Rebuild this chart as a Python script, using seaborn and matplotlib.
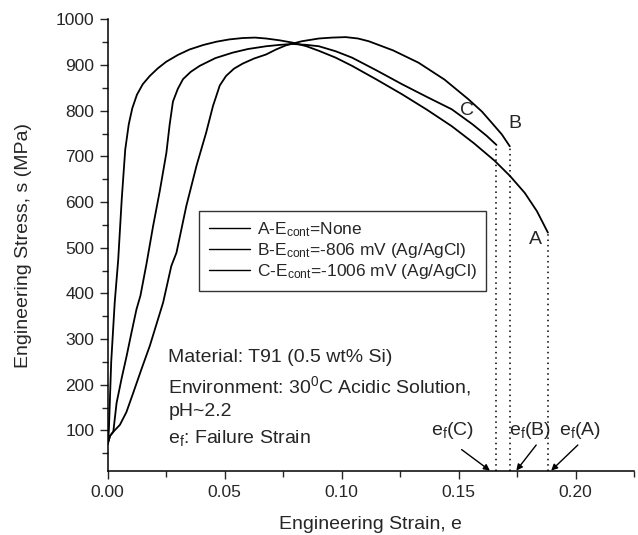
import numpy as np
import pandas as pd
import seaborn as sns
import matplotlib
matplotlib.use("Agg")
import matplotlib.pyplot as plt
from matplotlib.ticker import MultipleLocator

# curve A (no potential control)
strain_a = [0.0, 0.0005, 0.0015, 0.0030, 0.0045, 0.0060, 0.0075, 0.0090, 0.0105, 0.0125,
            0.0150, 0.0180, 0.0215, 0.0250, 0.0300, 0.0350, 0.0410, 0.0465, 0.0520, 0.0577,
            0.0630, 0.0677, 0.0735, 0.0790, 0.0850, 0.0903, 0.0975, 0.1045, 0.1150, 0.1258,
            0.1365, 0.1471, 0.1565, 0.1655, 0.1720, 0.1783, 0.1835, 0.1882]
stress_a = [70, 100, 250, 380, 474, 606, 715, 770, 805, 835,
            858, 876, 893, 907, 922, 934, 944, 951, 956, 959,
            960, 958, 954, 949, 941, 931, 916, 898, 868, 836,
            802, 766, 729, 690, 657, 620, 580, 533]

# curve B (-806 mV)
strain_b = [0.0, 0.0010, 0.0024, 0.0052, 0.0080, 0.0109, 0.0145, 0.0180, 0.0210, 0.0237,
            0.0272, 0.0294, 0.0336, 0.0380, 0.0421, 0.0450, 0.0479, 0.0506, 0.0540, 0.0577,
            0.0625, 0.0677, 0.0720, 0.0762, 0.0830, 0.0903, 0.0960, 0.1018, 0.1070, 0.1116,
            0.1220, 0.1329, 0.1440, 0.1542, 0.1600, 0.1641, 0.1685, 0.1719]
stress_b = [70, 88, 97, 112, 140, 182, 235, 285, 335, 380,
            460, 489, 591, 680, 752, 810, 855, 876, 892, 903,
            914, 923, 934, 943, 952, 958, 960, 961, 958, 952,
            932, 905, 868, 825, 798, 774, 748, 722]

# curve C (-1006 mV)
strain_c = [0.0, 0.0010, 0.0024, 0.0038, 0.0060, 0.0081, 0.0100, 0.0123, 0.0140, 0.0166,
            0.0194, 0.0223, 0.0251, 0.0265, 0.0279, 0.0300, 0.0322, 0.0355, 0.0393, 0.0460,
            0.0534, 0.0600, 0.0677, 0.0735, 0.0790, 0.0850, 0.0903, 0.0975, 0.1045, 0.1150,
            0.1258, 0.1365, 0.1471, 0.1560, 0.1620, 0.1662]
stress_c = [70, 88, 97, 160, 215, 263, 310, 365, 395, 465,
            547, 625, 708, 770, 820, 848, 869, 885, 898, 915,
            927, 935, 941, 944, 946, 944, 941, 930, 916, 888,
            858, 830, 803, 770, 745, 725]

legend_labels = [r"A-E$_\mathregular{cont}$=None",
                 r"B-E$_\mathregular{cont}$=-806 mV (Ag/AgCl)",
                 r"C-E$_\mathregular{cont}$=-1006 mV (Ag/AgCl)"]
curve_letters = ["A", "B", "C"]
failure_strain = [0.1882, 0.1719, 0.1662]
failure_stress = [533, 722, 725]

info = ["Material: T91 (0.5 wt% Si)",
        r"Environment: 30$^\mathregular{0}$C Acidic Solution,",
        "pH~2.2",
        r"e$_\mathregular{f}$: Failure Strain"]
info_y = [259, 197, 142, 84]

sns.set_style("ticks")
plt.rcParams["font.family"] = ["Liberation Sans", "DejaVu Sans"]
plt.rcParams["mathtext.fontset"] = "custom"
plt.rcParams["mathtext.rm"] = "Liberation Sans"
plt.rcParams["mathtext.it"] = "Liberation Sans:italic"

df = pd.concat([
    pd.DataFrame({"strain": strain_a, "stress": stress_a, "curve": legend_labels[0]}),
    pd.DataFrame({"strain": strain_b, "stress": stress_b, "curve": legend_labels[1]}),
    pd.DataFrame({"strain": strain_c, "stress": stress_c, "curve": legend_labels[2]}),
])

fig = plt.figure(figsize=(6.38, 5.35), dpi=100)
ax = fig.add_axes([0.1688, 0.1187, 0.8249, 0.8452])

sns.lineplot(data=df, x="strain", y="stress", hue="curve", palette=["k", "k", "k"],
             sort=False, estimator=None, lw=1.3, ax=ax, legend=False)

# dotted drop lines at failure
ax.vlines(failure_strain, 10, failure_stress, colors="k", linestyles=(0, (1, 2.5)), lw=1.1)

ax.set_xlim(0, 0.225)
ax.set_ylim(10, 1000)
ax.xaxis.set_major_locator(MultipleLocator(0.05))
ax.xaxis.set_minor_locator(MultipleLocator(0.025))
ax.yaxis.set_minor_locator(MultipleLocator(50))
ax.set_yticks(np.arange(100, 1001, 100))
ax.xaxis.set_major_formatter(plt.FuncFormatter(lambda v, p: f"{v:.2f}"))
ax.tick_params(which="major", length=6, width=1, labelsize=12.5, direction="out")
ax.tick_params(which="minor", length=4, width=1, direction="out")
sns.despine(ax=ax)
for s in ["left", "bottom"]:
    ax.spines[s].set_linewidth(1.1)
    ax.spines[s].set_color("k")

ax.set_xlabel("Engineering Strain, e", fontsize=14)
ax.set_ylabel("Engineering Stress, s (MPa)", fontsize=14)
ax.xaxis.set_label_coords(0.5, -0.098)
ax.yaxis.set_label_coords(-0.143, 0.5)

# legend
handles = [plt.Line2D([], [], color="k", lw=1) for _ in legend_labels]
leg = ax.legend(handles, legend_labels, loc="upper left", bbox_to_anchor=(0.174, 0.577),
                fontsize=12.5, frameon=True, fancybox=False, handlelength=2.4,
                handletextpad=0.35, labelspacing=0.12, borderpad=0.55, borderaxespad=0)
leg.get_frame().set_edgecolor("k")
leg.get_frame().set_linewidth(1.0)

# curve letters
ax.text(0.1535, 800, "C", fontsize=14, ha="center", va="center")
ax.text(0.1740, 772, "B", fontsize=14, ha="center", va="center")
ax.text(0.1828, 518, "A", fontsize=14, ha="center", va="center")

# info block
for line, y in zip(info, info_y):
    ax.text(0.0259, y, line, fontsize=14, ha="left", va="center")

# failure strain arrows
ef_text_x = [0.2020, 0.1804, 0.1474]
arrow_tail = [(0.2010, 68), (0.1832, 68), (0.1513, 58)]
arrow_tip = [(0.1896, 12), (0.1747, 12), (0.1634, 12)]
for letter, tx, tail, tip in zip(curve_letters, ef_text_x, arrow_tail, arrow_tip):
    ax.text(tx, 100, r"e$_\mathregular{f}$(" + letter + ")", fontsize=14, ha="center", va="center")
    ax.annotate("", xy=tip, xytext=tail,
                arrowprops=dict(arrowstyle="-|>", color="k", lw=1, mutation_scale=9,
                                shrinkA=0, shrinkB=0))

fig.savefig("out.png", dpi=100)
